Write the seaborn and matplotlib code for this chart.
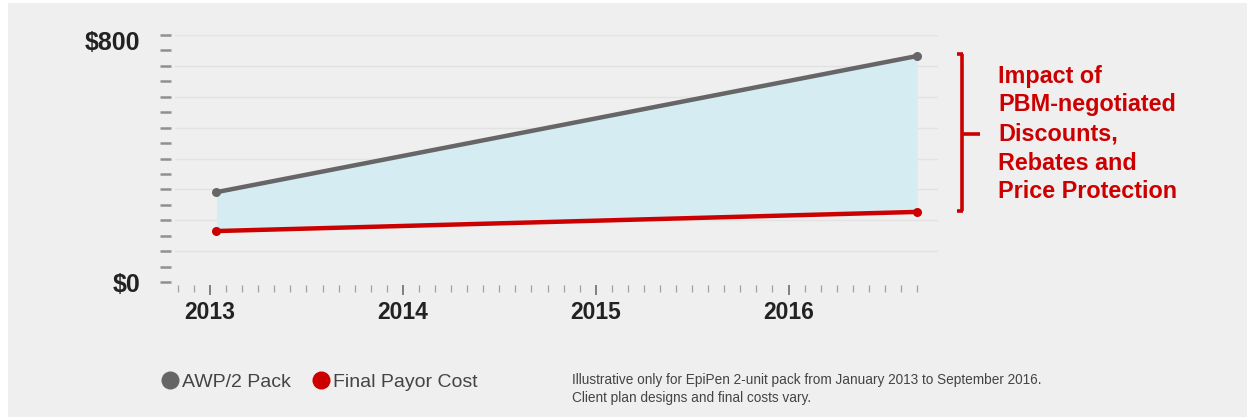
import numpy as np
import pandas as pd
import matplotlib
matplotlib.use("Agg")
import matplotlib.pyplot as plt
from matplotlib.patches import Rectangle
from matplotlib.lines import Line2D
import seaborn as sns

# ---- data ----
months = [0.4, 44]            # months since Jan 2013 (Jan 2013, Sep 2016)
awp_2pack = [291, 732]        # AWP/2 Pack ($)
final_payor = [165, 227]      # Final Payor Cost ($)
year_labels = ["2013", "2014", "2015", "2016"]
year_ticks = [0, 12, 24, 36]
y_labels = ["$0", "$800"]
y_label_values = [0, 800]
series_names = ["AWP/2 Pack", "Final Payor Cost"]
annotation_lines = ["Impact of", "PBM-negotiated", "Discounts,", "Rebates and", "Price Protection"]
footnote = ("Illustrative only for EpiPen 2-unit pack from January 2013 to September 2016.\n"
            "Client plan designs and final costs vary.")

GRAY = "#666666"
RED = "#cc0000"
FILL = "#d5ecf2"
BG = "#efefef"

sns.set_theme(style="white")
plt.rcParams['font.family'] = ['Liberation Sans', 'DejaVu Sans']

W, H = 1247, 417
fig = plt.figure(figsize=(W / 100, H / 100), dpi=100, facecolor="white")
fig.patches.append(Rectangle((8 / W, 0), 1, (H - 3) / H, transform=fig.transFigure,
                             facecolor=BG, edgecolor="none", zorder=-10))

ax = fig.add_axes([175 / W, (H - 282) / H, (938 - 175) / W, (282 - 35) / H])
ax.set_facecolor(BG)
ax.patch.set_alpha(0)

df = pd.DataFrame({"month": months, "awp": awp_2pack, "final": final_payor})

ax.fill_between(df["month"], df["final"], df["awp"], color=FILL, zorder=1, linewidth=0)
sns.lineplot(data=df, x="month", y="awp", ax=ax, color=GRAY, lw=3.2, marker="o",
             markersize=6.5, markeredgewidth=0, zorder=3)
sns.lineplot(data=df, x="month", y="final", ax=ax, color=RED, lw=3.2, marker="o",
             markersize=6.5, markeredgewidth=0, zorder=3)

ax.set_xlim(-2.18, 45.3)
ax.set_ylim(0, 800)

# grid lines every $100
for v in range(100, 801, 100):
    ax.axhline(v, color="#e2e2e2", lw=1, zorder=0)

for s in ax.spines.values():
    s.set_visible(False)
ax.spines['left'].set_position(('outward', 3))
ax.spines['bottom'].set_position(('outward', 2))

# y ticks every $50; labels drawn separately at 0 and 800
ax.set_yticks(np.arange(0, 801, 50))
ax.set_yticklabels([])
ax.tick_params(axis="y", which="both", left=True, direction="out", length=8, width=1.8,
               color="#909090")
for val, lab, dy in zip(y_label_values, y_labels, [-3, -8]):
    ax.annotate(lab, xy=(0, val), xycoords=("axes fraction", "data"),
                xytext=(-35, dy), textcoords="offset pixels", ha="right", va="center",
                fontsize=18, fontweight="bold", color="#222222")

# x ticks: months minor, years major
ax.set_xticks(year_ticks)
ax.set_xticklabels(year_labels)
ax.set_xticks(np.arange(-2, 45, 1), minor=True)
ax.tick_params(axis="x", which="both", bottom=True)
ax.tick_params(axis="x", which="major", direction="out", length=7, width=1.3,
               color="#777777", pad=5, labelsize=16.5, labelcolor="#222222")
ax.tick_params(axis="x", which="minor", direction="out", length=5, width=0.9,
               color="#a0a0a0")
for lab in ax.get_xticklabels():
    lab.set_fontweight("bold")
ax.set_xlabel("")
ax.set_ylabel("")

# bracket annotation (figure pixel coordinates)
def fx(px):
    return px / W

def fy(py):
    return 1 - py / H

lw_b = 2.6
fig.lines.append(Line2D([fx(962), fx(962)], [fy(54), fy(211)], transform=fig.transFigure,
                        color=RED, lw=lw_b, solid_capstyle="butt"))
fig.lines.append(Line2D([fx(957), fx(963)], [fy(54), fy(54)], transform=fig.transFigure,
                        color=RED, lw=lw_b, solid_capstyle="butt"))
fig.lines.append(Line2D([fx(957), fx(963)], [fy(211), fy(211)], transform=fig.transFigure,
                        color=RED, lw=lw_b, solid_capstyle="butt"))
fig.lines.append(Line2D([fx(962), fx(980)], [fy(134), fy(134)], transform=fig.transFigure,
                        color=RED, lw=lw_b, solid_capstyle="butt"))

for i, line in enumerate(annotation_lines):
    fig.text(fx(998), fy(76 + i * 29), line, color=RED, fontsize=16.8, fontweight="bold",
             ha="left", va="center")

# legend
handles = [Line2D([], [], marker="o", ls="none", color=GRAY, markersize=13, markeredgewidth=0),
           Line2D([], [], marker="o", ls="none", color=RED, markersize=13, markeredgewidth=0)]
fig.legend(handles, series_names, loc="center left", bbox_to_anchor=(fx(143), fy(382)),
           ncol=2, frameon=False, fontsize=14, handletextpad=0.12, columnspacing=1.05,
           handlelength=1.0, labelcolor="#444444")

fig.text(fx(572), fy(389), footnote, fontsize=9.85, color="#444444", ha="left",
         va="center", linespacing=1.45)

fig.savefig("out.png", dpi=100, facecolor=fig.get_facecolor())
